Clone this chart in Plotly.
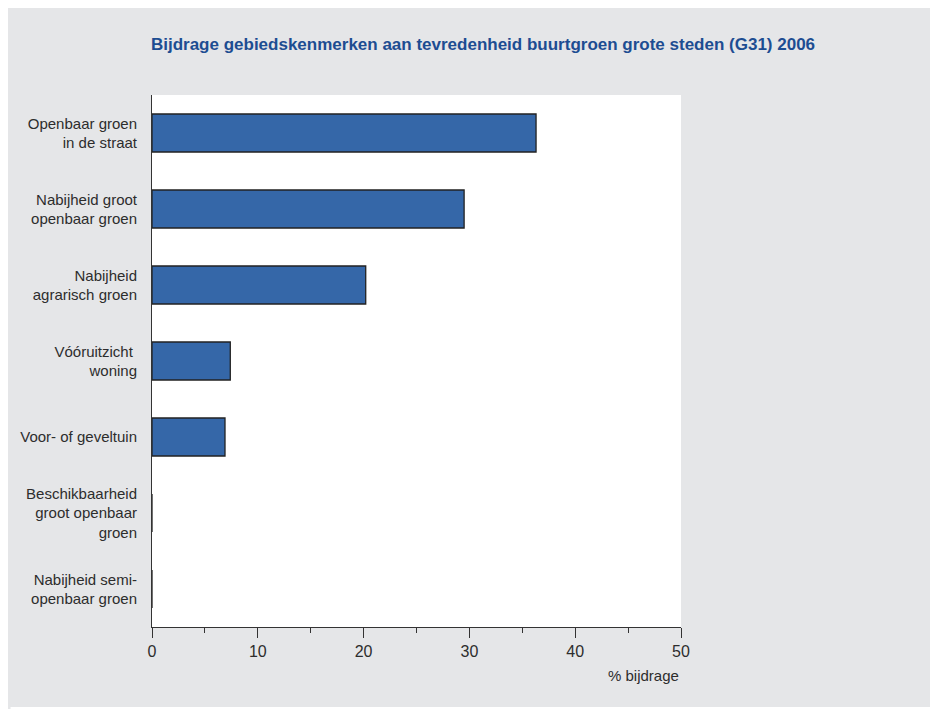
import plotly.graph_objects as go

# categories top to bottom
categories = [
    "Openbaar groen<br>in de straat",
    "Nabijheid groot<br>openbaar groen",
    "Nabijheid<br>agrarisch groen",
    "Vóóruitzicht\u00a0<br>woning",
    "Voor- of geveltuin",
    "Beschikbaarheid<br>groot openbaar<br>groen",
    "Nabijheid semi-<br>openbaar groen",
]
bijdrage = [36.3, 29.5, 20.2, 7.4, 6.9, 0, 0]
x_ticks = [0, 10, 20, 30, 40, 50]

title = "Bijdrage gebiedskenmerken aan tevredenheid buurtgroen grote steden (G31) 2006"
font = "Liberation Sans, Arial, sans-serif"

# the page puts the figure 8px in from the top left corner
W, H = 930, 701
L, R, T, B = 142, 257, 87, 82
pw, ph = W - L - R, H - T - B

fig = go.Figure()
fig.add_trace(go.Bar(
    x=bijdrage, y=categories, orientation="h",
    marker=dict(color="#3567a8", line=dict(color="#222222", width=1.3)),
    hoverinfo="x+y",
))

fig.update_layout(
    width=W, height=H,
    margin=dict(l=L, r=R, t=T, b=B),
    paper_bgcolor="#e5e6e8",
    plot_bgcolor="white",
    bargap=0.5,
    showlegend=False,
    font=dict(family=font, size=15, color="#2d2d2d"),
    title=dict(text="<b>" + title + "</b>", x=475 / W, xanchor="center",
               y=1 - 36 / H, yanchor="middle",
               font=dict(family=font, size=17, color="#1d4d92")),
)

fig.update_xaxes(
    range=[0, 50], tickvals=x_ticks, showgrid=False, zeroline=False,
    showline=True, linecolor="#333333", linewidth=1,
    ticks="outside", ticklen=10, tickcolor="#333333",
    minor=dict(dtick=5, ticks="outside", ticklen=5, tickcolor="#333333"),
    tickfont=dict(size=16, color="#2d2d2d"), fixedrange=True,
)
fig.update_yaxes(
    autorange="reversed", showgrid=False, zeroline=False,
    showline=True, linecolor="#333333", linewidth=1,
    ticks="", ticklabelstandoff=11,
    tickfont=dict(size=15, color="#2d2d2d"), fixedrange=True,
)

# x axis title at the right
fig.add_annotation(text="% bijdrage", xref="paper", yref="paper",
                   x=1, y=-(667 - 619) / ph, xanchor="right", yanchor="middle",
                   showarrow=False, font=dict(size=15, color="#2d2d2d"))

# thin white strip under the grey panel
fig.add_shape(type="rect", xref="paper", yref="paper", layer="below",
              x0=-L / pw, x1=1 + R / pw, y0=-B / ph, y1=-(B - 2) / ph,
              fillcolor="white", line_width=0)

fig.write_html("out.html")
